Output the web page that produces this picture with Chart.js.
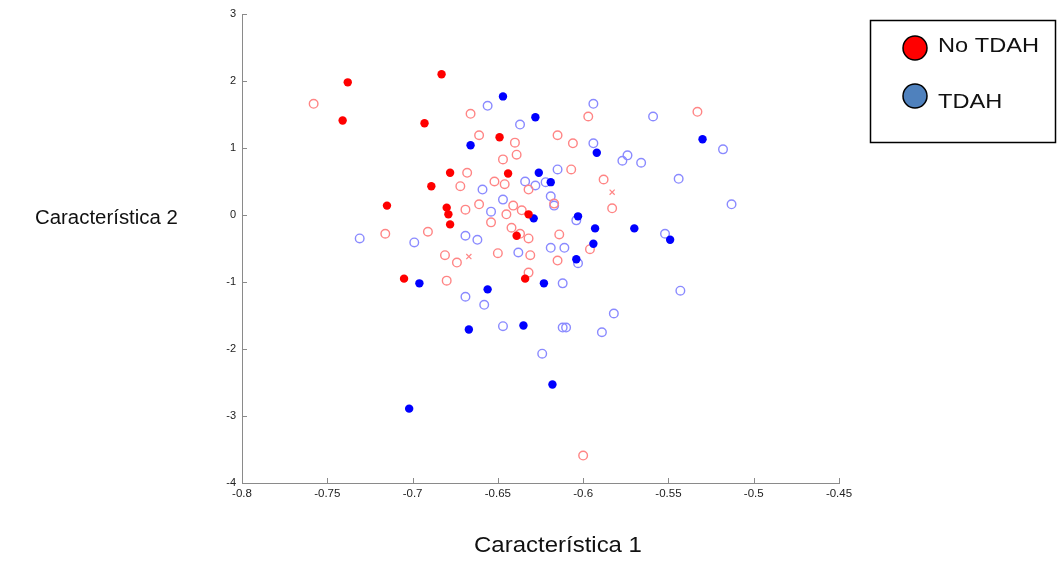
<!DOCTYPE html>
<html>
<head>
<meta charset="utf-8">
<script src="https://cdn.jsdelivr.net/npm/chart.js@4.4.1/dist/chart.umd.min.js"></script>
<style>
  html, body { margin: 0; padding: 0; background: #fff; }
  #wrap { width: 1057px; height: 563px; }
</style>
</head>
<body>
<div id="wrap"><canvas id="scatter" width="1057" height="563"></canvas></div>
<script>
// tick values
const X_TICKS = [-0.8, -0.75, -0.7, -0.65, -0.6, -0.55, -0.5, -0.45];
const Y_TICKS = [-4, -3, -2, -1, 0, 1, 2, 3];

// No TDAH, filled markers
const redFillX = [-0.738, -0.741, -0.683, -0.693, -0.649, -0.644, -0.678, -0.689, -0.715, -0.680, -0.679, -0.678, -0.632, -0.639, -0.705, -0.634];
const redFillY = [1.98, 1.41, 2.10, 1.37, 1.16, 0.62, 0.63, 0.43, 0.14, 0.11, 0.01, -0.14, 0.01, -0.31, -0.95, -0.95];

// TDAH, filled markers
const blueFillX = [-0.647, -0.628, -0.666, -0.530, -0.592, -0.626, -0.619, -0.629, -0.603, -0.593, -0.570, -0.549, -0.594, -0.604, -0.623, -0.696, -0.656, -0.667, -0.635, -0.702, -0.618];
const blueFillY = [1.77, 1.46, 1.04, 1.13, 0.93, 0.63, 0.49, -0.05, -0.02, -0.20, -0.20, -0.37, -0.43, -0.66, -1.02, -1.02, -1.11, -1.71, -1.65, -2.89, -2.53];

// No TDAH, hollow markers
const redOpenX = [-0.758, -0.666, -0.661, -0.640, -0.639, -0.647, -0.668, -0.672, -0.652, -0.646,
                  -0.632, -0.661, -0.641, -0.669, -0.636, -0.645, -0.654, -0.642, -0.716, -0.691,
                  -0.632, -0.637, -0.681, -0.674, -0.650, -0.631, -0.632, -0.680, -0.597, -0.533,
                  -0.615, -0.606, -0.607, -0.588, -0.583, -0.617, -0.614, -0.615, -0.596, -0.600];
const redOpenY = [1.66, 1.51, 1.19, 1.08, 0.90, 0.83, 0.63, 0.43, 0.50, 0.46,
                  0.38, 0.16, 0.14, 0.08, 0.07, 0.01, -0.11, -0.19, -0.28, -0.25,
                  -0.35, -0.28, -0.60, -0.71, -0.57, -0.60, -0.86, -0.98, 1.47, 1.54,
                  1.19, 1.07, 0.68, 0.53, 0.10, 0.17, -0.29, -0.68, -0.51, -3.59];

// TDAH, hollow markers
const blueOpenX = [-0.656, -0.637, -0.659, -0.634, -0.628, -0.622, -0.647, -0.654, -0.619, -0.731,
                   -0.699, -0.669, -0.662, -0.594, -0.559, -0.594, -0.574, -0.577, -0.566, -0.518,
                   -0.615, -0.544, -0.513, -0.617, -0.604, -0.552, -0.619, -0.611, -0.603, -0.612,
                   -0.543, -0.582, -0.612, -0.610, -0.589, -0.624, -0.638, -0.669, -0.658, -0.647];
const blueOpenY = [1.63, 1.35, 0.38, 0.50, 0.44, 0.49, 0.23, 0.05, 0.28, -0.35,
                   -0.41, -0.31, -0.37, 1.66, 1.47, 1.07, 0.89, 0.81, 0.78, 0.98,
                   0.68, 0.54, 0.16, 0.14, -0.08, -0.28, -0.49, -0.49, -0.72, -1.02,
                   -1.13, -1.47, -1.68, -1.68, -1.75, -2.07, -0.56, -1.22, -1.34, -1.66];

// the two x markers
const crossX = [-0.667, -0.583];
const crossY = [-0.62, 0.34];

const zip = (xs, ys) => xs.map((x, i) => ({ x: x, y: ys[i] }));

const AXIS_GREY = '#8a8a8a';
const FONT = '"Liberation Sans", Arial, sans-serif';

// text drawn a bit wider than normal, like the source image
function wideText(c, txt, x, y, sx, align) {
  c.save();
  c.translate(x, y);
  c.scale(sx, 1);
  c.textAlign = align;
  c.fillText(txt, 0, 0);
  c.restore();
}

// inward ticks, horizontal y title and the boxed legend
const decor = {
  id: 'decor',
  afterDraw(chart) {
    const c = chart.ctx;
    const xs = chart.scales.x, ys = chart.scales.y;
    const area = chart.chartArea;
    c.save();
    c.strokeStyle = AXIS_GREY;
    c.lineWidth = 1;
    c.beginPath();
    X_TICKS.forEach(v => {
      const px = Math.round(xs.getPixelForValue(v)) + 0.5;
      c.moveTo(px, area.bottom);
      c.lineTo(px, area.bottom - 5);
    });
    Y_TICKS.forEach(v => {
      const py = Math.round(ys.getPixelForValue(v)) + 0.5;
      c.moveTo(area.left, py);
      c.lineTo(area.left + 5, py);
    });
    c.stroke();

    // axis titles
    c.fillStyle = '#111';
    c.textBaseline = 'middle';
    c.font = '20px ' + FONT;
    wideText(c, 'Característica 2', 35, 218, 1.02, 'left');
    c.font = '22px ' + FONT;
    wideText(c, 'Característica 1', 558, 546, 1.09, 'center');

    // legend
    c.strokeStyle = '#000';
    c.lineWidth = 1.5;
    c.strokeRect(870.5, 20.5, 185, 122);
    const items = [
      { label: 'No TDAH', color: '#ff0000', cy: 48, ty: 46 },
      { label: 'TDAH',    color: '#4f81bd', cy: 96, ty: 102 },
    ];
    c.font = '20px ' + FONT;
    items.forEach(it => {
      c.beginPath();
      c.arc(915, it.cy, 12, 0, Math.PI * 2);
      c.fillStyle = it.color;
      c.fill();
      c.stroke();
      c.fillStyle = '#111';
      wideText(c, it.label, 938, it.ty, 1.18, 'left');
    });
    c.restore();
  }
};

const ctx = document.getElementById('scatter');
new Chart(ctx, {
  type: 'scatter',
  data: {
    datasets: [
      { label: 'No TDAH', data: zip(redFillX, redFillY), pointStyle: 'circle', pointRadius: 4.2,
        backgroundColor: '#ff0000', borderColor: '#ff0000', borderWidth: 0 },
      { label: 'TDAH', data: zip(blueFillX, blueFillY), pointStyle: 'circle', pointRadius: 4.2,
        backgroundColor: '#0000ff', borderColor: '#0000ff', borderWidth: 0 },
      { label: 'No TDAH (o)', data: zip(redOpenX, redOpenY), pointStyle: 'circle', pointRadius: 4.3,
        backgroundColor: 'rgba(0,0,0,0)', borderColor: '#ff8585', borderWidth: 1.4 },
      { label: 'TDAH (o)', data: zip(blueOpenX, blueOpenY), pointStyle: 'circle', pointRadius: 4.3,
        backgroundColor: 'rgba(0,0,0,0)', borderColor: '#8a8aff', borderWidth: 1.4 },
      { label: 'x', data: zip(crossX, crossY), pointStyle: 'crossRot', pointRadius: 3.6,
        backgroundColor: '#ff8585', borderColor: '#ff8585', borderWidth: 1.2 },
    ],
  },
  options: {
    responsive: false,
    animation: false,
    events: [],
    layout: { padding: { left: 212, right: 218, top: 14, bottom: 56 } },
    plugins: {
      legend: { display: false },
      tooltip: { enabled: false },
    },
    scales: {
      x: {
        type: 'linear',
        min: -0.8, max: -0.45,
        afterFit: s => { s.height = 24; },
        afterBuildTicks: s => { s.ticks = X_TICKS.map(v => ({ value: v })); },
        grid: { display: false, drawTicks: false },
        border: { display: true, color: AXIS_GREY, width: 1 },
        ticks: {
          padding: 4, color: '#222', font: { family: FONT, size: 11.5 },
          maxRotation: 0, autoSkip: false,
          callback: v => String(Number(v.toFixed(2))),
        },
      },
      y: {
        type: 'linear',
        min: -4, max: 3,
        afterFit: s => { s.width = 30; },
        afterBuildTicks: s => { s.ticks = Y_TICKS.map(v => ({ value: v })); },
        grid: { display: false, drawTicks: false },
        border: { display: true, color: AXIS_GREY, width: 1 },
        ticks: {
          padding: 6, color: '#222', font: { family: FONT, size: 11 },
          autoSkip: false,
          callback: v => String(v),
        },
      },
    },
  },
  plugins: [decor],
});
</script>
</body>
</html>
